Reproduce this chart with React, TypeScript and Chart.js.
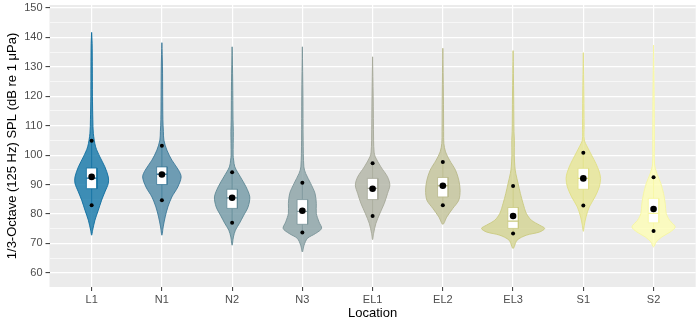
import { useEffect, useRef } from 'react';
import { Chart, registerables } from 'chart.js';

Chart.register(...registerables);

// ---- Data ----
const categories = ['L1', 'N1', 'N2', 'N3', 'EL1', 'EL2', 'EL3', 'S1', 'S2'];
const yMajorTicks = [60, 70, 80, 90, 100, 110, 120, 130, 140, 150];
const yMinorTicks = [65, 75, 85, 95, 105, 115, 125, 135, 145];

// box statistics (dB)
const upperDot = [104.9, 103.2, 94.2, 90.6, 97.2, 97.7, 89.5, 100.8, 92.5];
const q3 = [95.6, 96.0, 88.4, 84.9, 92.1, 92.4, 82.2, 95.5, 85.3];
const median = [92.2, 93.5, 85.5, 80.9, 88.7, 89.6, 77.6, 92.1, 80.2];
const mean = [92.6, 93.4, 85.5, 81.1, 88.6, 89.6, 79.3, 92.1, 81.7];
const q1 = [88.6, 90.0, 81.9, 76.5, 84.9, 85.8, 75.1, 88.4, 77.0];
const lowerDot = [83.0, 84.7, 77.0, 73.7, 79.3, 83.0, 73.4, 82.9, 74.2];

// violin density profiles: [level dB, density]
const densityL1 = [[141.7, 0], [138, 0.5], [130, 0.7], [120, 0.8], [112, 1.2], [107.4, 1.7], [102.8, 4], [99.4, 8.3], [96, 13.3], [92.6, 16.7], [90.4, 16.7], [87.5, 13.3], [84.7, 10], [81.3, 6.7], [77.9, 3.3], [74.5, 1], [72.8, 0]];
const densityN1 = [[138.2, 0], [130, 0.6], [120, 0.8], [112, 1], [108, 1.5], [105.1, 2], [101.7, 5], [98.3, 10], [94.9, 16.7], [92.6, 19.3], [89.2, 16], [85.8, 10], [82.4, 6], [79, 3.3], [75.6, 1.3], [72.8, 0]];
const densityN2 = [[136.8, 0], [125, 0.6], [112, 0.9], [108, 1.2], [100, 1], [98.3, 1.5], [96, 2.7], [92.6, 8.3], [89.2, 14], [85.8, 17.7], [82.4, 16], [79.6, 11.7], [76.8, 7.3], [74.5, 3.3], [72.2, 1.3], [69.4, 0]];
const densityN3 = [[136.8, 0], [120, 0.6], [105, 0.8], [96, 1.5], [93.8, 3.3], [90.4, 8.3], [87, 12.7], [83.6, 14], [80.2, 14], [77.3, 16.7], [75.1, 19.3], [73.4, 13.3], [71.7, 5], [69.4, 1.7], [67.1, 0]];
const densityEL1 = [[133.4, 0], [120, 0.6], [105, 1], [101, 1.5], [99.4, 2.7], [96, 8.3], [92.6, 15], [89.8, 17.3], [87, 15], [83.6, 11.7], [80.2, 7.3], [76.8, 3.3], [73.4, 1], [71.3, 0]];
const densityEL2 = [[136.3, 0], [120, 0.6], [108, 0.8], [104, 1], [101.1, 2.7], [98.3, 6.7], [94.9, 12.7], [91.5, 16], [88.1, 17.3], [84.7, 16], [81.9, 10], [79, 4], [76.5, 0]];
const densityEL3 = [[135.5, 0], [120, 0.6], [108, 0.9], [105, 1.3], [100, 1.2], [96, 1.8], [93.8, 2.7], [90.4, 5], [87, 7.3], [83.6, 10], [80.2, 13.3], [77.9, 18.3], [76.2, 26.7], [75.1, 31.7], [73.9, 26.7], [72.8, 13.3], [71.1, 4], [68.3, 0]];
const densityS1 = [[134.8, 0], [120, 0.6], [110, 0.8], [105.1, 1], [102.8, 4], [100, 8.3], [97.1, 12.7], [94.3, 16], [92.1, 17.3], [89.2, 16], [85.8, 11.7], [82.4, 6], [79, 2.7], [76.2, 1], [74.1, 0]];
const densityS2 = [[137.4, 0], [120, 0.6], [105, 0.8], [97, 1], [93.8, 3.3], [90.4, 7.3], [87, 10], [83.6, 11.7], [80.2, 12.7], [77.9, 16], [75.6, 21.7], [73.9, 16.7], [72.2, 8.3], [70.5, 2.7], [68.8, 0]];

const profiles = [densityL1, densityN1, densityN2, densityN3, densityEL1, densityEL2, densityEL3, densityS1, densityS2];

// styles
const fillColors = ['#1175A8', '#4F88A5', '#7298A5', '#89A1A5', '#B2B4A5', '#C3C398', '#D3D391', '#E7E693', '#FEFEB5'];
const lineColors = ['#0E6D9E', '#3B7898', '#5E8894', '#7A9499', '#A6A898', '#B8B889', '#C9C97F', '#E0DF85', '#F6F6A0'];
const FILL_ALPHA = 0.8;
const MAX_DENSITY = 31.7;
const VIOLIN_HALF = 0.45;
const BOX_HALF = 0.075;
const FONT = "'Liberation Sans', Arial, sans-serif";

function withAlpha(hex: string, a: number) {
  const r = parseInt(hex.slice(1, 3), 16);
  const g = parseInt(hex.slice(3, 5), 16);
  const b = parseInt(hex.slice(5, 7), 16);
  return `rgba(${r},${g},${b},${a})`;
}

function buildDatasets() {
  const ds: any[] = [];
  const k = VIOLIN_HALF / MAX_DENSITY;
  // mean dots (top)
  ds.push({
    label: 'mean', showLine: false, order: 0,
    data: mean.map((v, i) => ({ x: i, y: v })),
    pointRadius: 3.3, pointBackgroundColor: '#000', pointBorderWidth: 0, pointHoverRadius: 3.3,
  });
  ds.push({
    label: 'pct', showLine: false, order: 0.5,
    data: [...upperDot.map((v, i) => ({ x: i, y: v })), ...lowerDot.map((v, i) => ({ x: i, y: v }))],
    pointRadius: 2, pointBackgroundColor: '#000', pointBorderWidth: 0, pointHoverRadius: 2,
  });
  categories.forEach((_, i) => {
    ds.push({
      label: 'median' + i, order: 1,
      data: [{ x: i - BOX_HALF, y: median[i] }, { x: i + BOX_HALF, y: median[i] }],
      borderColor: lineColors[i], borderWidth: 1.3, pointRadius: 0, tension: 0, fill: false,
    });
    ds.push({
      label: 'box' + i, order: 2,
      data: [
        { x: i - BOX_HALF, y: q3[i] }, { x: i + BOX_HALF, y: q3[i] },
        { x: i + BOX_HALF, y: q1[i] }, { x: i - BOX_HALF, y: q1[i] },
        { x: i - BOX_HALF, y: q3[i] },
      ],
      borderColor: lineColors[i], borderWidth: 0.8, backgroundColor: '#FFFFFF',
      pointRadius: 0, tension: 0, fill: 'shape',
    });
    ds.push({
      label: 'whisker' + i, order: 3,
      data: [{ x: i, y: lowerDot[i] }, { x: i, y: upperDot[i] }],
      borderColor: lineColors[i], borderWidth: 0.8, pointRadius: 0, tension: 0, fill: false,
    });
    const prof = profiles[i];
    const right = prof.map(([v, d]) => ({ x: i + d * k, y: v }));
    const left = prof.slice(0, -1).reverse().map(([v, d]) => ({ x: i - d * k, y: v }));
    ds.push({
      label: 'violin' + i, order: 4,
      data: [...right, ...left],
      borderColor: lineColors[i], borderWidth: 0.9,
      backgroundColor: withAlpha(fillColors[i], FILL_ALPHA),
      pointRadius: 0, tension: 0.3, fill: 'shape',
    });
  });
  return ds;
}

const panelBg = {
  id: 'panelBg',
  beforeDraw(chart: any) {
    const { ctx, chartArea } = chart;
    if (!chartArea) return;
    ctx.save();
    ctx.fillStyle = '#EBEBEB';
    ctx.fillRect(chartArea.left, chartArea.top, chartArea.right - chartArea.left, chartArea.bottom - chartArea.top);
    ctx.restore();
  },
};

export default function App() {
  const ref = useRef<HTMLCanvasElement>(null);
  useEffect(() => {
    document.body.style.margin = '0';
    const canvas = ref.current;
    if (!canvas) return;
    const chart = new Chart(canvas, {
      type: 'line',
      data: { datasets: buildDatasets() },
      plugins: [panelBg],
      options: {
        animation: false,
        responsive: false,
        devicePixelRatio: 1,
        events: [],
        layout: { padding: { top: 5, right: 3, left: 0, bottom: 0 } },
        plugins: { legend: { display: false }, tooltip: { enabled: false } },
        scales: {
          x: {
            type: 'linear', min: -0.6, max: 8.6,
            afterBuildTicks: (s: any) => { s.ticks = categories.map((_, i) => ({ value: i })); },
            afterFit: (s: any) => { s.height = 35; s.paddingLeft = 0; s.paddingRight = 0; },
            ticks: {
              callback: (v: any) => categories[Math.round(Number(v))] ?? '',
              color: '#4D4D4D', font: { family: FONT, size: 11 }, padding: 2,
              maxRotation: 0, autoSkip: false,
            },
            grid: { color: '#FFFFFF', lineWidth: 1.2, tickColor: '#333333', tickLength: 4, tickWidth: 1 },
            border: { display: false },
            title: { display: true, text: 'Location', color: '#000', font: { family: FONT, size: 13 }, padding: { top: 0, bottom: 1 } },
          },
          y: {
            type: 'linear', min: 55.2, max: 151,
            afterBuildTicks: (s: any) => {
              s.ticks = [...yMajorTicks, ...yMinorTicks].sort((a, b) => a - b).map((v) => ({ value: v }));
            },
            afterFit: (s: any) => { s.width = 49.5; s.paddingTop = 0; s.paddingBottom = 0; },
            ticks: {
              callback: (v: any) => (yMajorTicks.includes(Number(v)) ? String(v) : ''),
              color: '#4D4D4D', font: { family: FONT, size: 11 }, padding: 3, autoSkip: false,
            },
            grid: {
              color: '#FFFFFF',
              lineWidth: (c: any) => (c.tick && yMajorTicks.includes(c.tick.value) ? 1.2 : 0.6),
              tickColor: (c: any) => (c.tick && yMajorTicks.includes(c.tick.value) ? '#333333' : 'rgba(0,0,0,0)'),
              tickLength: 4, tickWidth: 1,
            },
            border: { display: false },
            title: { display: true, text: '1/3-Octave (125 Hz) SPL (dB re 1 μPa)', color: '#000', font: { family: FONT, size: 13 }, padding: { top: 5, bottom: 0 } },
          },
        },
      } as any,
    });
    return () => chart.destroy();
  }, []);
  return (
    <div style={{ width: 699, height: 322 }}>
      <canvas ref={ref} width={699} height={322} />
    </div>
  );
}
